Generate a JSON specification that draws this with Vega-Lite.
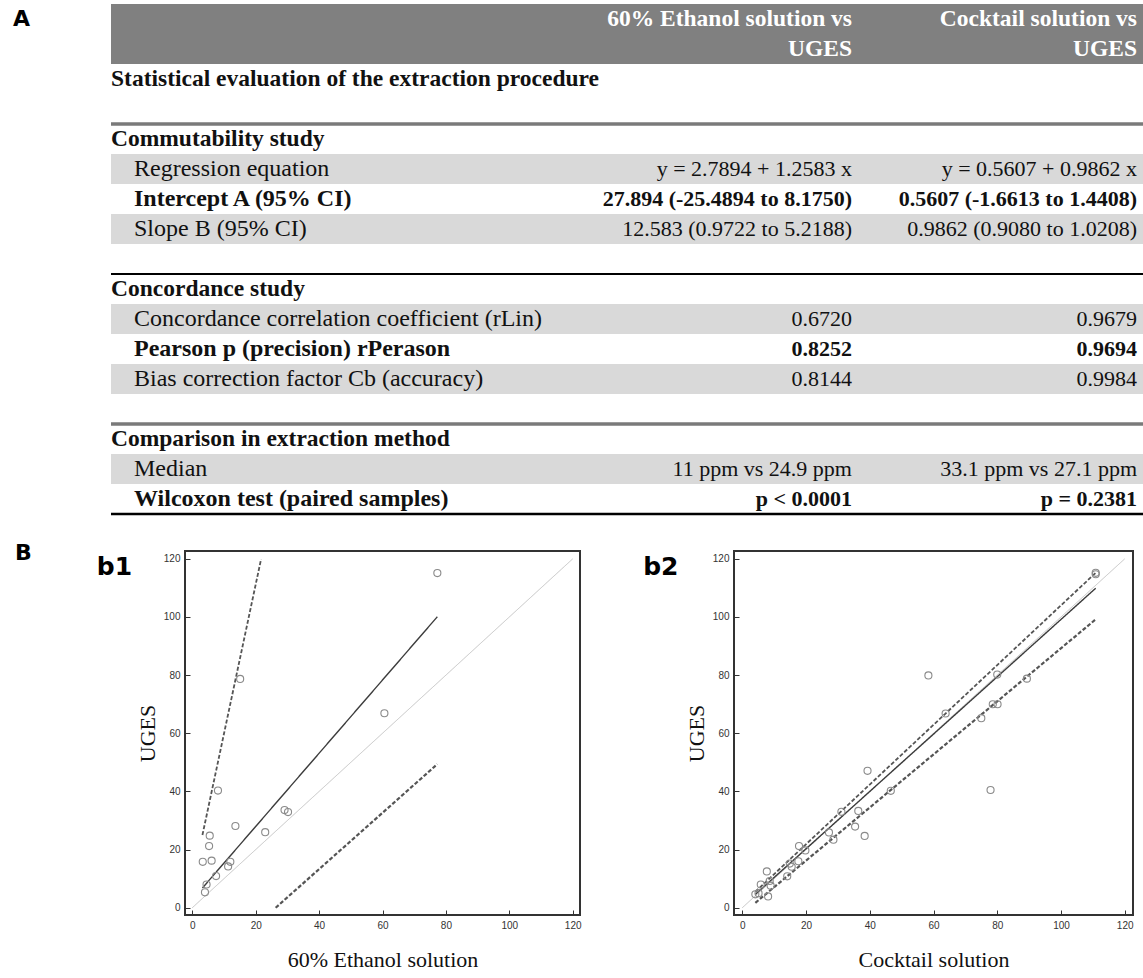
{
  "$schema": "https://vega.github.io/schema/vega-lite/v6.json",
  "background": "white",
  "padding": {"top": 4, "left": 0, "right": 0, "bottom": 0},
  "bounds": "flush",
  "spacing": 37,
  "config": {
    "view": {"stroke": null},
    "axis": {
      "labelFont": "Liberation Sans",
      "labelFontSize": 10,
      "labelColor": "#333333",
      "tickColor": "#333333",
      "tickWidth": 1,
      "grid": false,
      "domain": false,
      "labelOverlap": false,
      "labelFlush": false,
      "titleFont": "Liberation Serif",
      "titleFontSize": 22,
      "titleFontWeight": "normal",
      "titleColor": "#111111"
    }
  },
  "datasets": {
    "table": [
      {"row": 0, "kind": "header", "item": 0, "label": "", "c1": "60% Ethanol solution vs", "c2": "Cocktail solution vs"},
      {"row": 1, "kind": "header", "item": 0, "label": "", "c1": "UGES", "c2": "UGES"},
      {"row": 2, "kind": "title", "item": 0, "label": "Statistical evaluation of the extraction procedure", "c1": "", "c2": ""},
      {"row": 4, "kind": "section", "item": 0, "label": "Commutability study", "c1": "", "c2": ""},
      {"row": 5, "kind": "item", "item": 1, "label": "Regression equation", "c1": "y = 2.7894 + 1.2583 x", "c2": "y = 0.5607 + 0.9862 x"},
      {"row": 6, "kind": "item", "item": 2, "label": "Intercept A (95% CI)", "c1": "27.894 (-25.4894 to 8.1750)", "c2": "0.5607 (-1.6613 to 1.4408)"},
      {"row": 7, "kind": "item", "item": 3, "label": "Slope B (95% CI)", "c1": "12.583 (0.9722 to 5.2188)", "c2": "0.9862 (0.9080 to 1.0208)"},
      {"row": 9, "kind": "section", "item": 0, "label": "Concordance study", "c1": "", "c2": ""},
      {"row": 10, "kind": "item", "item": 1, "label": "Concordance correlation coefficient (rLin)", "c1": "0.6720", "c2": "0.9679"},
      {"row": 11, "kind": "item", "item": 2, "label": "Pearson p (precision) rPerason", "c1": "0.8252", "c2": "0.9694"},
      {"row": 12, "kind": "item", "item": 3, "label": "Bias correction factor Cb (accuracy)", "c1": "0.8144", "c2": "0.9984"},
      {"row": 14, "kind": "section", "item": 0, "label": "Comparison in extraction method", "c1": "", "c2": ""},
      {"row": 15, "kind": "item", "item": 1, "label": "Median", "c1": "11 ppm vs 24.9 ppm", "c2": "33.1 ppm vs 27.1 ppm"},
      {"row": 16, "kind": "item", "item": 2, "label": "Wilcoxon test (paired samples)", "c1": "p < 0.0001", "c2": "p  = 0.2381"}
    ],
    "b1_points": [
      {"extract": 77.3, "uges": 115.1}, {"extract": 15.1, "uges": 78.7}, {"extract": 60.6, "uges": 66.9},
      {"extract": 8.1, "uges": 40.3}, {"extract": 29.1, "uges": 33.6}, {"extract": 30.2, "uges": 32.9},
      {"extract": 13.6, "uges": 28.1}, {"extract": 23.0, "uges": 26.0}, {"extract": 5.5, "uges": 24.8},
      {"extract": 5.3, "uges": 21.2}, {"extract": 3.3, "uges": 15.8}, {"extract": 6.1, "uges": 16.2},
      {"extract": 12.0, "uges": 15.8}, {"extract": 11.3, "uges": 14.2}, {"extract": 7.5, "uges": 10.9},
      {"extract": 4.5, "uges": 8.0}, {"extract": 4.0, "uges": 5.3}
    ],
    "b1_lines": [
      {"line": "identity", "extract": 0, "uges": 0}, {"line": "identity", "extract": 120, "uges": 120},
      {"line": "fit", "extract": 3.2, "uges": 6.8}, {"line": "fit", "extract": 77.3, "uges": 100.1},
      {"line": "ci_upper", "extract": 3.2, "uges": 25.0}, {"line": "ci_upper", "extract": 21.7, "uges": 119.9},
      {"line": "ci_lower", "extract": 26.3, "uges": 0}, {"line": "ci_lower", "extract": 77.3, "uges": 49.4}
    ],
    "b2_points": [
      {"extract": 110.9, "uges": 115.2}, {"extract": 110.9, "uges": 114.7}, {"extract": 58.4, "uges": 79.9},
      {"extract": 80.0, "uges": 80.2}, {"extract": 89.3, "uges": 78.8}, {"extract": 63.8, "uges": 66.8},
      {"extract": 78.6, "uges": 70.0}, {"extract": 80.1, "uges": 70.0}, {"extract": 75.0, "uges": 65.2},
      {"extract": 39.3, "uges": 47.1}, {"extract": 46.6, "uges": 40.2}, {"extract": 77.9, "uges": 40.5},
      {"extract": 31.1, "uges": 33.0}, {"extract": 36.4, "uges": 33.3}, {"extract": 35.4, "uges": 27.9},
      {"extract": 38.4, "uges": 24.7}, {"extract": 27.2, "uges": 25.9}, {"extract": 28.6, "uges": 23.4},
      {"extract": 17.8, "uges": 21.2}, {"extract": 19.8, "uges": 19.7}, {"extract": 17.6, "uges": 16.0},
      {"extract": 15.5, "uges": 14.1}, {"extract": 14.1, "uges": 10.8}, {"extract": 7.7, "uges": 12.5},
      {"extract": 8.6, "uges": 9.2}, {"extract": 5.8, "uges": 8.0}, {"extract": 8.1, "uges": 3.9},
      {"extract": 4.1, "uges": 4.6}, {"extract": 5.1, "uges": 5.0}, {"extract": 8.9, "uges": 7.6},
      {"extract": 14.9, "uges": 15.2}
    ],
    "b2_lines": [
      {"line": "identity", "extract": 0, "uges": 0}, {"line": "identity", "extract": 120, "uges": 120},
      {"line": "fit", "extract": 4.1, "uges": 4.6}, {"line": "fit", "extract": 110.9, "uges": 109.9},
      {"line": "ci_upper", "extract": 4.1, "uges": 5.5}, {"line": "ci_upper", "extract": 110.9, "uges": 115.2},
      {"line": "ci_lower", "extract": 4.1, "uges": 1.7}, {"line": "ci_lower", "extract": 110.9, "uges": 99.2}
    ]
  },
  "vconcat": [
    {
      "width": 1143,
      "height": 510,
      "data": {"name": "table"},
      "encoding": {
        "y": {
          "field": "row",
          "type": "ordinal",
          "axis": null,
          "scale": {"domain": [0, 1, 2, 3, 4, 5, 6, 7, 8, 9, 10, 11, 12, 13, 14, 15, 16], "paddingInner": 0, "paddingOuter": 0}
        }
      },
      "layer": [
        {
          "transform": [{"filter": "datum.kind == 'header' || (datum.kind == 'item' && datum.item != 2)"}],
          "mark": {"type": "rect"},
          "encoding": {
            "x": {"datum": 111, "type": "quantitative", "scale": {"domain": [0, 1143]}, "axis": null},
            "x2": {"datum": 1143},
            "color": {
              "condition": {"test": "datum.kind == 'header'", "value": "#808080"},
              "value": "#d9d9d9"
            }
          }
        },
        {
          "transform": [{"filter": "datum.kind == 'section'"}],
          "mark": {"type": "rule"},
          "encoding": {
            "x": {"datum": 111, "type": "quantitative", "scale": {"domain": [0, 1143]}, "axis": null},
            "x2": {"datum": 1143},
            "y": {"field": "row", "type": "ordinal", "bandPosition": 0},
            "color": {
              "condition": {"test": "datum.label == 'Concordance study'", "value": "#000000"},
              "value": "#7a7a7a"
            },
            "strokeWidth": {
              "condition": {"test": "datum.label == 'Concordance study'", "value": 2},
              "value": 3.5
            }
          }
        },
        {
          "transform": [{"filter": "datum.row == 16"}],
          "mark": {"type": "rule", "color": "#000000", "strokeWidth": 2.5},
          "encoding": {
            "x": {"datum": 111, "type": "quantitative", "scale": {"domain": [0, 1143]}, "axis": null},
            "x2": {"datum": 1143},
            "y": {"field": "row", "type": "ordinal", "bandPosition": 1}
          }
        },
        {
          "data": {"values": [{"row": 0, "panel": "A"}]},
          "mark": {"type": "text", "align": "left", "baseline": "middle", "font": "DejaVu Sans", "fontSize": 22, "fontWeight": "bold", "color": "#000000"},
          "encoding": {
            "x": {"datum": 13, "type": "quantitative", "scale": {"domain": [0, 1143]}, "axis": null},
            "text": {"field": "panel"}
          }
        },
        {
          "transform": [{"filter": "datum.kind == 'header'"}],
          "mark": {"type": "text", "align": "right", "baseline": "middle", "font": "Liberation Serif", "fontSize": 23.5, "fontWeight": "bold", "color": "#ffffff"},
          "encoding": {
            "x": {"datum": 852, "type": "quantitative", "scale": {"domain": [0, 1143]}, "axis": null},
            "text": {"field": "c1"}
          }
        },
        {
          "transform": [{"filter": "datum.kind == 'header'"}],
          "mark": {"type": "text", "align": "right", "baseline": "middle", "font": "Liberation Serif", "fontSize": 23.5, "fontWeight": "bold", "color": "#ffffff"},
          "encoding": {
            "x": {"datum": 1137, "type": "quantitative", "scale": {"domain": [0, 1143]}, "axis": null},
            "text": {"field": "c2"}
          }
        },
        {
          "transform": [{"filter": "datum.kind == 'title' || datum.kind == 'section'"}],
          "mark": {"type": "text", "align": "left", "baseline": "middle", "font": "Liberation Serif", "fontSize": 23.5, "fontWeight": "bold", "color": "#111111"},
          "encoding": {
            "x": {"datum": 111, "type": "quantitative", "scale": {"domain": [0, 1143]}, "axis": null},
            "text": {"field": "label"}
          }
        },
        {
          "transform": [{"filter": "datum.kind == 'item' && datum.item != 2"}],
          "mark": {"type": "text", "align": "left", "baseline": "middle", "font": "Liberation Serif", "fontSize": 24, "color": "#111111"},
          "encoding": {
            "x": {"datum": 134, "type": "quantitative", "scale": {"domain": [0, 1143]}, "axis": null},
            "text": {"field": "label"}
          }
        },
        {
          "transform": [{"filter": "datum.kind == 'item' && datum.item == 2"}],
          "mark": {"type": "text", "align": "left", "baseline": "middle", "font": "Liberation Serif", "fontSize": 24, "fontWeight": "bold", "color": "#111111"},
          "encoding": {
            "x": {"datum": 134, "type": "quantitative", "scale": {"domain": [0, 1143]}, "axis": null},
            "text": {"field": "label"}
          }
        },
        {
          "transform": [{"filter": "datum.kind == 'item' && datum.item != 2"}],
          "mark": {"type": "text", "align": "right", "baseline": "middle", "font": "Liberation Serif", "fontSize": 22, "color": "#111111"},
          "encoding": {
            "x": {"datum": 852, "type": "quantitative", "scale": {"domain": [0, 1143]}, "axis": null},
            "text": {"field": "c1"}
          }
        },
        {
          "transform": [{"filter": "datum.kind == 'item' && datum.item == 2"}],
          "mark": {"type": "text", "align": "right", "baseline": "middle", "font": "Liberation Serif", "fontSize": 22, "fontWeight": "bold", "color": "#111111"},
          "encoding": {
            "x": {"datum": 852, "type": "quantitative", "scale": {"domain": [0, 1143]}, "axis": null},
            "text": {"field": "c1"}
          }
        },
        {
          "transform": [{"filter": "datum.kind == 'item' && datum.item != 2"}],
          "mark": {"type": "text", "align": "right", "baseline": "middle", "font": "Liberation Serif", "fontSize": 22, "color": "#111111"},
          "encoding": {
            "x": {"datum": 1137, "type": "quantitative", "scale": {"domain": [0, 1143]}, "axis": null},
            "text": {"field": "c2"}
          }
        },
        {
          "transform": [{"filter": "datum.kind == 'item' && datum.item == 2"}],
          "mark": {"type": "text", "align": "right", "baseline": "middle", "font": "Liberation Serif", "fontSize": 22, "fontWeight": "bold", "color": "#111111"},
          "encoding": {
            "x": {"datum": 1137, "type": "quantitative", "scale": {"domain": [0, 1143]}, "axis": null},
            "text": {"field": "c2"}
          }
        }
      ]
    },
    {
      "bounds": "flush",
      "spacing": 154,
      "hconcat": [
        {
          "width": 31,
          "height": 364,
          "data": {"values": [{"panel": "B"}]},
          "mark": {"type": "text", "align": "left", "baseline": "alphabetic", "font": "DejaVu Sans", "fontSize": 22, "fontWeight": "bold", "color": "#000000"},
          "encoding": {
            "x": {"datum": 15, "type": "quantitative", "scale": {"domain": [0, 31]}, "axis": null},
            "y": {"datum": 9, "type": "quantitative", "scale": {"domain": [0, 364], "reverse": true}, "axis": null},
            "text": {"field": "panel"}
          }
        },
        {
          "width": 395,
          "height": 364,
          "view": {"stroke": "#333333", "strokeWidth": 2},
          "layer": [
            {
              "data": {"name": "b1_lines"},
              "mark": {"type": "line"},
              "encoding": {
                "x": {
                  "field": "extract",
                  "type": "quantitative",
                  "scale": {"domain": [-2.3, 122.3], "nice": false, "zero": false},
                  "axis": {
                    "values": [0, 10, 20, 30, 40, 50, 60, 70, 80, 90, 100, 110, 120],
                    "labelExpr": "datum.value % 20 === 0 ? datum.label : ''",
                    "tickSize": -5,
                    "labelPadding": 10,
                    "titlePadding": 19
                  },
                  "title": "60% Ethanol solution"
                },
                "y": {
                  "field": "uges",
                  "type": "quantitative",
                  "scale": {"domain": [-2.5, 122.7], "nice": false, "zero": false},
                  "axis": {
                    "values": [0, 10, 20, 30, 40, 50, 60, 70, 80, 90, 100, 110, 120],
                    "labelExpr": "datum.value % 20 === 0 ? datum.label : ''",
                    "tickSize": -5,
                    "labelPadding": 10,
                    "titlePadding": 4
                  },
                  "title": "UGES"
                },
                "color": {
                  "field": "line",
                  "type": "nominal",
                  "legend": null,
                  "scale": {"domain": ["identity", "fit", "ci_upper", "ci_lower"], "range": ["#c4c4c4", "#3c3c3c", "#555555", "#555555"]}
                },
                "strokeDash": {
                  "field": "line",
                  "type": "nominal",
                  "legend": null,
                  "scale": {"domain": ["identity", "fit", "ci_upper", "ci_lower"], "range": [[1, 0], [1, 0], [4, 2], [4, 2]]}
                },
                "strokeWidth": {
                  "field": "line",
                  "type": "nominal",
                  "legend": null,
                  "scale": {"domain": ["identity", "fit", "ci_upper", "ci_lower"], "range": [1, 2.2, 1, 1]}
                }
              }
            },
            {
              "data": {"name": "b1_points"},
              "mark": {"type": "point", "filled": false, "color": "#8a8a8a", "size": 50, "strokeWidth": 1.1, "opacity": 1},
              "encoding": {
                "x": {"field": "extract", "type": "quantitative"},
                "y": {"field": "uges", "type": "quantitative"}
              }
            },
            {
              "data": {"values": [{"panel": "b1"}]},
              "mark": {"type": "text", "align": "left", "baseline": "alphabetic", "font": "DejaVu Sans", "fontSize": 25, "fontWeight": "bold", "color": "#000000"},
              "encoding": {
                "x": {"datum": -30.1, "type": "quantitative"},
                "y": {"datum": 114.4, "type": "quantitative"},
                "text": {"field": "panel"}
              }
            }
          ]
        },
        {
          "width": 399,
          "height": 364,
          "view": {"stroke": "#333333", "strokeWidth": 2},
          "layer": [
            {
              "data": {"name": "b2_lines"},
              "mark": {"type": "line"},
              "encoding": {
                "x": {
                  "field": "extract",
                  "type": "quantitative",
                  "scale": {"domain": [-2.6, 122.6], "nice": false, "zero": false},
                  "axis": {
                    "values": [0, 10, 20, 30, 40, 50, 60, 70, 80, 90, 100, 110, 120],
                    "labelExpr": "datum.value % 20 === 0 ? datum.label : ''",
                    "tickSize": -5,
                    "labelPadding": 10,
                    "titlePadding": 19
                  },
                  "title": "Cocktail solution"
                },
                "y": {
                  "field": "uges",
                  "type": "quantitative",
                  "scale": {"domain": [-2.5, 122.7], "nice": false, "zero": false},
                  "axis": {
                    "values": [0, 10, 20, 30, 40, 50, 60, 70, 80, 90, 100, 110, 120],
                    "labelExpr": "datum.value % 20 === 0 ? datum.label : ''",
                    "tickSize": -5,
                    "labelPadding": 10,
                    "titlePadding": 4
                  },
                  "title": "UGES"
                },
                "color": {
                  "field": "line",
                  "type": "nominal",
                  "legend": null,
                  "scale": {"domain": ["identity", "fit", "ci_upper", "ci_lower"], "range": ["#c4c4c4", "#3c3c3c", "#555555", "#555555"]}
                },
                "strokeDash": {
                  "field": "line",
                  "type": "nominal",
                  "legend": null,
                  "scale": {"domain": ["identity", "fit", "ci_upper", "ci_lower"], "range": [[1, 0], [1, 0], [4, 2], [4, 2]]}
                },
                "strokeWidth": {
                  "field": "line",
                  "type": "nominal",
                  "legend": null,
                  "scale": {"domain": ["identity", "fit", "ci_upper", "ci_lower"], "range": [1, 2.2, 1, 1]}
                }
              }
            },
            {
              "data": {"name": "b2_points"},
              "mark": {"type": "point", "filled": false, "color": "#8a8a8a", "size": 50, "strokeWidth": 1.1, "opacity": 1},
              "encoding": {
                "x": {"field": "extract", "type": "quantitative"},
                "y": {"field": "uges", "type": "quantitative"}
              }
            },
            {
              "data": {"values": [{"panel": "b2"}]},
              "mark": {"type": "text", "align": "left", "baseline": "alphabetic", "font": "DejaVu Sans", "fontSize": 25, "fontWeight": "bold", "color": "#000000"},
              "encoding": {
                "x": {"datum": -31.1, "type": "quantitative"},
                "y": {"datum": 114.4, "type": "quantitative"},
                "text": {"field": "panel"}
              }
            }
          ]
        }
      ]
    }
  ]
}
